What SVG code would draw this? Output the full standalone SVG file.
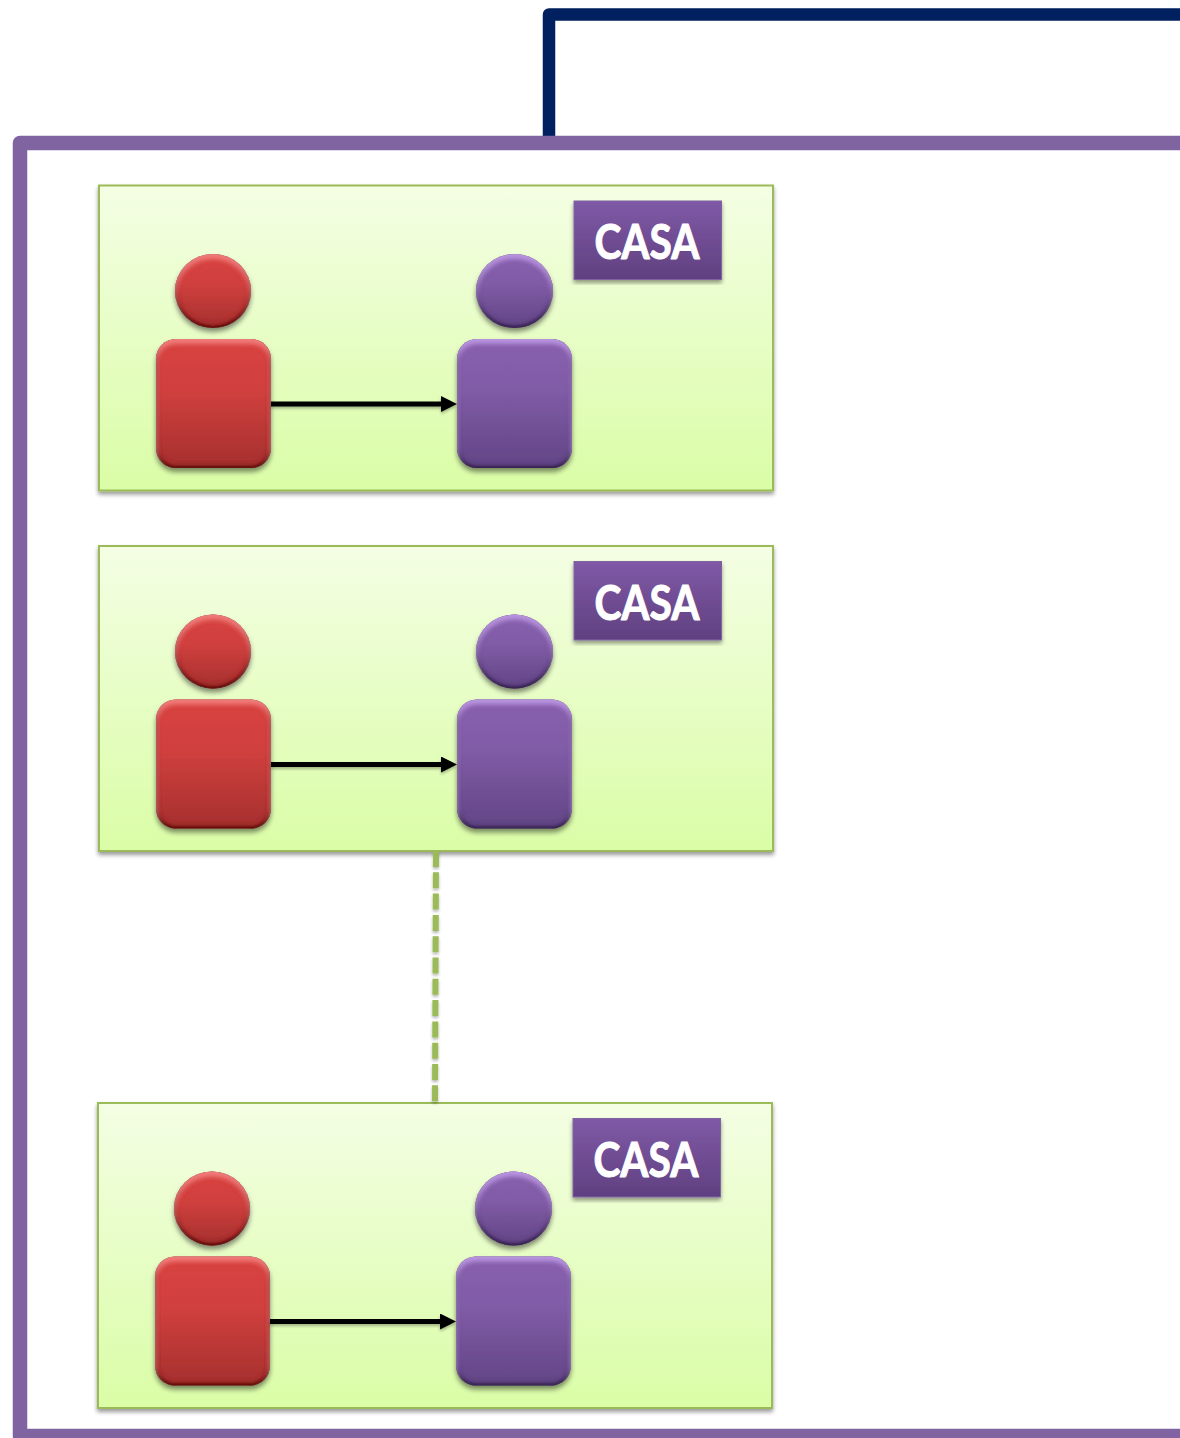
<svg xmlns="http://www.w3.org/2000/svg" xmlns:xlink="http://www.w3.org/1999/xlink" width="1180" height="1438" viewBox="0 0 1180 1438">
<style>
.panel{fill:url(#gPanel);stroke:#9bbb59;stroke-width:2;filter:url(#shadow)}
.tag{fill:url(#gTag);stroke:#8064a2;stroke-width:1;filter:url(#shadow)}
.tagText{font-family:"Lato","Liberation Sans",sans-serif;font-weight:700;font-size:47px;fill:#fff;stroke:#fff;stroke-width:1;stroke-linejoin:round;text-anchor:middle}
.red{fill:url(#gRed);filter:url(#bevelRed)}
.pur{fill:url(#gPur);filter:url(#bevelPur)}
.arrow{fill:none;stroke:#000;stroke-width:5;marker-end:url(#tip)}
.arrows{filter:url(#shadowLine)}
.dash{fill:none;stroke:#9bbb59;stroke-width:6;stroke-dasharray:16 5.3;filter:url(#shadowLine)}
</style>
<defs>
<linearGradient id="gPanel" x1="0" y1="0" x2="0" y2="1"><stop offset="0" stop-color="#f4fee4"/><stop offset="1" stop-color="#dafda6"/></linearGradient>
<linearGradient id="gTag" x1="0" y1="0" x2="0" y2="1"><stop offset="0" stop-color="#7f59a6"/><stop offset="1" stop-color="#604080"/></linearGradient>
<linearGradient id="gRed" x1="0" y1="0" x2="0" y2="1"><stop offset="0" stop-color="#d84341"/><stop offset="0.4" stop-color="#d0403e"/><stop offset="1" stop-color="#a5302e"/></linearGradient>
<linearGradient id="gPur" x1="0" y1="0" x2="0" y2="1"><stop offset="0" stop-color="#8860ae"/><stop offset="0.4" stop-color="#805ba6"/><stop offset="1" stop-color="#624585"/></linearGradient>
<filter id="shadow" x="-5%" y="-5%" width="110%" height="112%"><feGaussianBlur in="SourceAlpha" stdDeviation="2.2"/><feOffset dy="3"/><feComponentTransfer><feFuncA type="linear" slope="0.4"/></feComponentTransfer><feMerge><feMergeNode/><feMergeNode in="SourceGraphic"/></feMerge></filter>
<filter id="shadowLine" filterUnits="userSpaceOnUse" x="0" y="0" width="1180" height="1438"><feGaussianBlur in="SourceAlpha" stdDeviation="1.5"/><feOffset dy="2"/><feComponentTransfer><feFuncA type="linear" slope="0.3"/></feComponentTransfer><feMerge><feMergeNode/><feMergeNode in="SourceGraphic"/></feMerge></filter>
<filter id="bevelRed" x="-15%" y="-15%" width="130%" height="135%">
<feGaussianBlur in="SourceAlpha" stdDeviation="2.5" result="b"/>
<feOffset in="b" dy="4" result="sh"/><feFlood flood-color="#000" flood-opacity="0.45"/><feComposite in2="sh" operator="in" result="drop"/>
<feOffset in="b" dy="4" result="o1"/><feFlood flood-color="#ff8a88" flood-opacity="0.85"/><feComposite in2="o1" operator="out" result="t1"/><feComposite in="t1" in2="SourceAlpha" operator="in" result="top"/>
<feOffset in="b" dy="-2" result="o2"/><feFlood flood-color="#3c0a0a" flood-opacity="0.85"/><feComposite in2="o2" operator="out" result="t2"/><feComposite in="t2" in2="SourceAlpha" operator="in" result="bot"/>
<feMorphology in="SourceAlpha" operator="erode" radius="1" result="e"/><feGaussianBlur in="e" stdDeviation="1" result="eb"/><feFlood flood-color="#3c0a0a" flood-opacity="0.85"/><feComposite in2="eb" operator="out" result="t3"/><feComposite in="t3" in2="SourceAlpha" operator="in" result="rim"/>
<feMerge><feMergeNode in="drop"/><feMergeNode in="SourceGraphic"/><feMergeNode in="rim"/><feMergeNode in="bot"/><feMergeNode in="top"/></feMerge></filter>
<filter id="bevelPur" x="-15%" y="-15%" width="130%" height="135%">
<feGaussianBlur in="SourceAlpha" stdDeviation="2.5" result="b"/>
<feOffset in="b" dy="4" result="sh"/><feFlood flood-color="#000" flood-opacity="0.45"/><feComposite in2="sh" operator="in" result="drop"/>
<feOffset in="b" dy="4" result="o1"/><feFlood flood-color="#c9a3f2" flood-opacity="0.85"/><feComposite in2="o1" operator="out" result="t1"/><feComposite in="t1" in2="SourceAlpha" operator="in" result="top"/>
<feOffset in="b" dy="-2" result="o2"/><feFlood flood-color="#1e1032" flood-opacity="0.85"/><feComposite in2="o2" operator="out" result="t2"/><feComposite in="t2" in2="SourceAlpha" operator="in" result="bot"/>
<feMorphology in="SourceAlpha" operator="erode" radius="1" result="e"/><feGaussianBlur in="e" stdDeviation="1" result="eb"/><feFlood flood-color="#1e1032" flood-opacity="0.85"/><feComposite in2="eb" operator="out" result="t3"/><feComposite in="t3" in2="SourceAlpha" operator="in" result="rim"/>
<feMerge><feMergeNode in="drop"/><feMergeNode in="SourceGraphic"/><feMergeNode in="rim"/><feMergeNode in="bot"/><feMergeNode in="top"/></feMerge></filter>
<marker id="tip" markerUnits="userSpaceOnUse" markerWidth="16" markerHeight="16" refX="1" refY="8" orient="auto"><path d="M0 0L16 8L0 16Z" fill="#000"/></marker>
<g id="personRed"><ellipse class="red" cx="213" cy="291" rx="38" ry="37"/><rect class="red" x="156" y="339" width="115" height="129" rx="20"/></g>
<g id="personPur"><ellipse class="pur" cx="514.500" cy="291" rx="38.500" ry="37"/><rect class="pur" x="457" y="339" width="115" height="129" rx="20"/></g>
</defs>
<rect width="1180" height="1438" fill="#fff"/>
<g id="connectors-top">
<path d="M549 136V14.500H1180" fill="none" stroke="#002060" stroke-width="12.500" stroke-linejoin="round"/>
</g>
<g id="frame"><path d="M1180 143H20V1436H1180" fill="none" stroke="#8064a2" stroke-width="14.500" stroke-linejoin="round"/></g>

<g id="casa-1">
<rect class="panel" x="99" y="185.500" width="674" height="305"/>
<g id="casa-1-tag"><rect class="tag" x="574" y="201" width="147.500" height="78.500"/><text class="tagText" x="647" y="259" textLength="105" lengthAdjust="spacingAndGlyphs">CASA</text></g>
<use id="casa-1-red" xlink:href="#personRed" href="#personRed"/>
<use id="casa-1-purple" xlink:href="#personPur" href="#personPur"/>
</g>
<g id="casa-2" transform="translate(0 360.500)">
<rect class="panel" x="99" y="185.500" width="674" height="305"/>
<g id="casa-2-tag"><rect class="tag" x="574" y="201" width="147.500" height="78.500"/><text class="tagText" x="647" y="259" textLength="105" lengthAdjust="spacingAndGlyphs">CASA</text></g>
<use id="casa-2-red" xlink:href="#personRed" href="#personRed"/>
<use id="casa-2-purple" xlink:href="#personPur" href="#personPur"/>
</g>
<g id="casa-3" transform="translate(-1 917.500)">
<rect class="panel" x="99" y="185.500" width="674" height="305"/>
<g id="casa-3-tag"><rect class="tag" x="574" y="201" width="147.500" height="78.500"/><text class="tagText" x="647" y="259" textLength="105" lengthAdjust="spacingAndGlyphs">CASA</text></g>
<use id="casa-3-red" xlink:href="#personRed" href="#personRed"/>
<use id="casa-3-purple" xlink:href="#personPur" href="#personPur"/>
</g>
<g id="connectors">
<g class="arrows">
<path class="arrow" d="M271 404H442"/>
<path class="arrow" d="M271 764.500H442"/>
<path class="arrow" d="M270 1321.500H441"/>
</g>
<path class="dash" d="M436 851L435 1103"/>
</g>
</svg>
